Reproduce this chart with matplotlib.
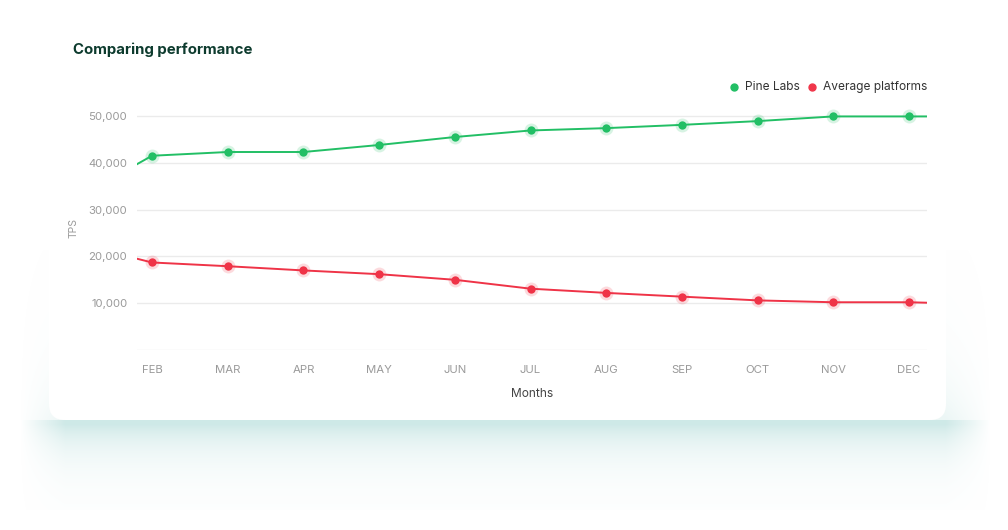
import numpy as np
import matplotlib
matplotlib.use("Agg")
import matplotlib.pyplot as plt
from matplotlib.patches import FancyBboxPatch

plt.rcParams['font.family'] = ['Inter', 'DejaVu Sans']

# data
months = ['FEB', 'MAR', 'APR', 'MAY', 'JUN', 'JUL', 'AUG', 'SEP', 'OCT', 'NOV', 'DEC']
pine_labs = [41500, 42300, 42300, 43800, 45500, 46900, 47400, 48100, 48900, 49900, 49900]
average_platforms = [18700, 17900, 17000, 16200, 15000, 13100, 12200, 11400, 10600, 10200, 10200]
# where the lines enter / leave the plot window
pine_edges = [39700, 49900]
avg_edges = [19500, 10100]
y_ticks = [10000, 20000, 30000, 40000, 50000]

W, H = 1008, 530
fig = plt.figure(figsize=(W / 100, H / 100), dpi=100)
fig.patch.set_facecolor('white')

# background layer in pixel coords
bg = fig.add_axes([0, 0, 1, 1])
bg.set_xlim(0, W)
bg.set_ylim(H, 0)
bg.axis('off')

# soft teal shadow around / under the card
yy = np.arange(250, 510).astype(float)
xx = np.arange(20, 990).astype(float)
ay = np.where(yy < 420, 0.35 * np.exp(-(420 - yy) / 45.0),
              0.85 * np.exp(-(yy - 424) / 26.0))
ay = np.clip(ay, 0, 0.85)
ax_ = np.clip(np.minimum(xx - 20, 990 - xx) / 45.0, 0, 1)
alpha = np.outer(ay, ax_)
rgba = np.zeros((len(yy), len(xx), 4))
rgba[..., 0] = 0xc6 / 255
rgba[..., 1] = 0xe5 / 255
rgba[..., 2] = 0xe3 / 255
rgba[..., 3] = alpha
bg.imshow(rgba, extent=(20, 990, 510, 250), aspect='auto', zorder=1)

card = FancyBboxPatch((49, -30), 897, 450, boxstyle='round,pad=0,rounding_size=16',
                      facecolor='white', edgecolor='none', zorder=3)
bg.add_patch(card)

bg.text(73, 50, 'Comparing performance', fontsize=10.8, fontweight='bold',
        color='#0d3b2e', va='center', ha='left', zorder=4)

# legend
bg.plot(734, 87, 'o', ms=5, color='#22bf65', zorder=4)
bg.text(745, 87, 'Pine Labs', fontsize=8.6, color='#333333', va='center', zorder=4)
bg.plot(812, 87, 'o', ms=5, color='#f0364a', zorder=4)
bg.text(823, 87, 'Average platforms', fontsize=8.6, color='#333333', va='center', zorder=4)

# main chart
ax = fig.add_axes([137 / W, 1 - 350 / H, 790 / W, (350 - 106.6) / H])
ax.set_facecolor('none')
ax.set_zorder(5)

x = np.arange(len(months))
x_left = -15 / 75.7
x_right = len(months) - 1 + 18 / 75.7

green = '#22bf65'
red = '#ef3347'

gx = np.concatenate([[x_left], x, [x_right]])
ax.plot(gx, [pine_edges[0]] + pine_labs + [pine_edges[1]], color=green, lw=1.4, zorder=3)
ax.plot(gx, [avg_edges[0]] + average_platforms + [avg_edges[1]], color=red, lw=1.4, zorder=3)
ax.plot(x, pine_labs, 'o', ms=10, color=green, alpha=0.18, mec='none', zorder=3)
ax.plot(x, pine_labs, 'o', ms=6, color=green, mec='none', zorder=4)
ax.plot(x, average_platforms, 'o', ms=10, color=red, alpha=0.18, mec='none', zorder=3)
ax.plot(x, average_platforms, 'o', ms=6, color=red, mec='none', zorder=4)

ax.set_xlim(x_left, x_right)
ax.set_ylim(0, 52000)
ax.set_yticks([0] + y_ticks)
ax.set_yticklabels([''] + ['{:,}'.format(v) for v in y_ticks])
ax.set_xticks(x)
ax.set_xticklabels(months)
ax.grid(axis='y', color='#ebebeb', lw=1)
ax.set_axisbelow(True)
for s in ax.spines.values():
    s.set_visible(False)
ax.tick_params(axis='both', length=0, labelsize=8.2, colors='#9a9a9a')
ax.tick_params(axis='y', pad=7)
ax.tick_params(axis='x', pad=11)

ax.set_xlabel('Months', fontsize=8.6, color='#444444', labelpad=9)
ax.set_ylabel('TPS', fontsize=7.5, color='#9a9a9a', labelpad=7)

fig.savefig('out.png', dpi=100, facecolor='white')
